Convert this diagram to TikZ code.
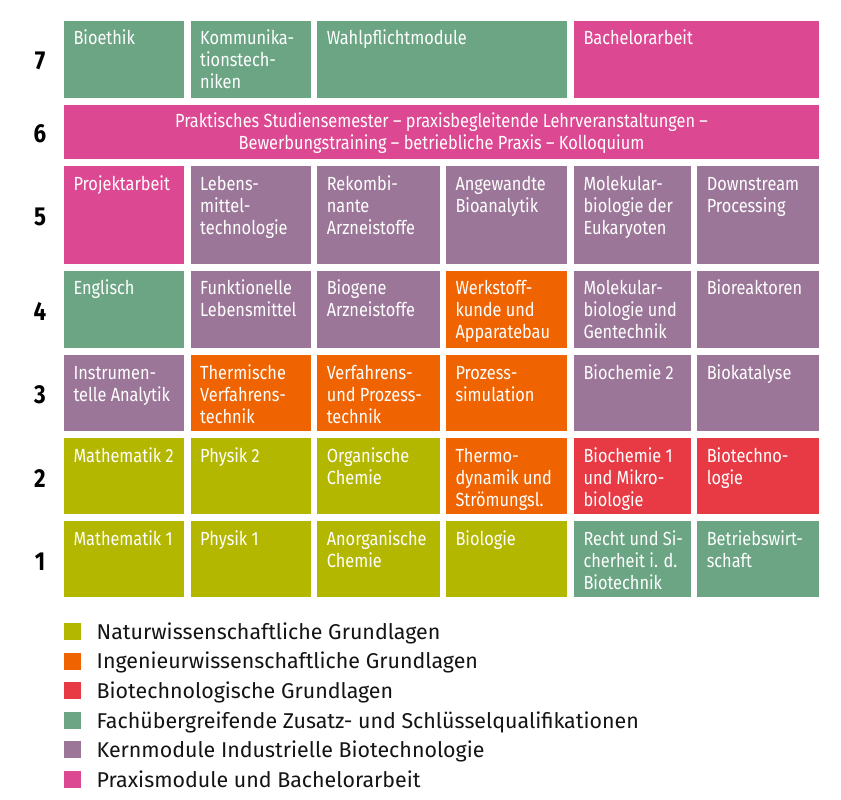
\documentclass[tikz,border=0pt]{standalone}
\usepackage{fontspec}
\setmainfont{Fira Sans}[FakeStretch=0.86]
\newfontfamily\legfont{Fira Sans}
\definecolor{cOlive}{HTML}{B4B700}
\definecolor{cOrange}{HTML}{EF6300}
\definecolor{cRed}{HTML}{E73A45}
\definecolor{cGreen}{HTML}{6BA584}
\definecolor{cPurple}{HTML}{9B7698}
\definecolor{cPink}{HTML}{DD4892}
\definecolor{cInk}{HTML}{141414}
\tikzset{
  cellbox/.style={rectangle,draw=none,inner sep=0pt,outer sep=0pt},
  celltext/.style={inner sep=0pt,outer sep=0pt,text=white,font=\fontsize{19}{22}\selectfont},
  rowlab/.style={inner sep=0pt,outer sep=0pt,text=black,font=\fontsize{26}{30}\selectfont\bfseries},
  legsq/.style={rectangle,draw=none,inner sep=0pt,outer sep=0pt,minimum size=17pt},
  legtext/.style={inner sep=0pt,outer sep=0pt,text=cInk,font=\legfont\fontsize{21.4}{24}\selectfont},
}
\newcommand\modcell[7]{%
  \pgfmathsetmacro\mcW{#4-#2}\pgfmathsetmacro\mcH{#5-#3}%
  \node[cellbox,fill=#6,minimum width=\mcW pt,minimum height=\mcH pt,anchor=north west] (#1) at (#2,#3) {};
  \node[celltext,anchor=base west] (#1t) at ([shift={(9.5,23.8)}]#1.north west) {\parbox[t]{200pt}{\raggedright #7}};
}
\begin{document}
\begin{tikzpicture}[x=1pt,y=-1pt]
\fill[white] (0,0) rectangle (841,800);
\useasboundingbox (0,0) rectangle (841,800);
% row 7
\modcell{c71}{64}{20.7}{184}{98}{cGreen}{Bioethik}
\modcell{c72}{190.7}{20.7}{310.7}{98}{cGreen}{Kommunika-\\tionstech-\\niken}
\modcell{c73}{317.3}{20.7}{567.3}{98}{cGreen}{Wahlpflichtmodule}
\modcell{c75}{574}{20.7}{819}{98}{cPink}{Bachelorarbeit}
% row 6
\node[cellbox,fill=cPink,minimum width=755pt,minimum height=53.7pt,anchor=north west] (c61) at (64,105.3) {};
\node[celltext,anchor=base] (c61t) at (441.5,127.7) {\parbox[t]{740pt}{\centering Praktisches Studiensemester – praxisbegleitende Lehrveranstaltungen –\\Bewerbungstraining – betriebliche Praxis – Kolloquium}};
% row 5
\modcell{c51}{64}{166.3}{184}{264}{cPink}{Projektarbeit}
\modcell{c52}{190.7}{166.3}{310.7}{264}{cPurple}{Lebens-\\mittel-\\technologie}
\modcell{c53}{317.3}{166.3}{440}{264}{cPurple}{Rekombi-\\nante\\Arzneistoffe}
\modcell{c54}{446}{166.3}{567.3}{264}{cPurple}{Angewandte\\Bioanalytik}
\modcell{c55}{574}{166.3}{690.7}{264}{cPurple}{Molekular-\\biologie der\\Eukaryoten}
\modcell{c56}{697.3}{166.3}{819}{264}{cPurple}{Downstream\\Processing}
% row 4
\modcell{c41}{64}{271}{184}{348}{cGreen}{Englisch}
\modcell{c42}{190.7}{271}{310.7}{348}{cPurple}{Funktionelle\\Lebensmittel}
\modcell{c43}{317.3}{271}{440}{348}{cPurple}{Biogene\\Arzneistoffe}
\modcell{c44}{446}{271}{567.3}{348}{cOrange}{Werkstoff-\\kunde und\\Apparatebau}
\modcell{c45}{574}{271}{690.7}{348}{cPurple}{Molekular-\\biologie und\\Gentechnik}
\modcell{c46}{697.3}{271}{819}{348}{cPurple}{Bioreaktoren}
% row 3
\modcell{c31}{64}{355.3}{184}{431}{cPurple}{Instrumen-\\telle Analytik}
\modcell{c32}{190.7}{355.3}{310.7}{431}{cOrange}{Thermische\\Verfahrens-\\technik}
\modcell{c33}{317.3}{355.3}{440}{431}{cOrange}{Verfahrens-\\und Prozess-\\technik}
\modcell{c34}{446}{355.3}{567.3}{431}{cOrange}{Prozess-\\simulation}
\modcell{c35}{574}{355.3}{690.7}{431}{cPurple}{Biochemie 2}
\modcell{c36}{697.3}{355.3}{819}{431}{cPurple}{Biokatalyse}
% row 2
\modcell{c21}{64}{438.3}{184}{514.3}{cOlive}{Mathematik 2}
\modcell{c22}{190.7}{438.3}{310.7}{514.3}{cOlive}{Physik 2}
\modcell{c23}{317.3}{438.3}{440}{514.3}{cOlive}{Organische\\Chemie}
\modcell{c24}{446}{438.3}{567.3}{514.3}{cOrange}{Thermo-\\dynamik und\\Strömungsl.}
\modcell{c25}{574}{438.3}{690.7}{514.3}{cRed}{Biochemie 1\\und Mikro-\\biologie}
\modcell{c26}{697.3}{438.3}{819}{514.3}{cRed}{Biotechno-\\logie}
% row 1
\modcell{c11}{64}{521.3}{184}{597.3}{cOlive}{Mathematik 1}
\modcell{c12}{190.7}{521.3}{310.7}{597.3}{cOlive}{Physik 1}
\modcell{c13}{317.3}{521.3}{440}{597.3}{cOlive}{Anorganische\\Chemie}
\modcell{c14}{446}{521.3}{567.3}{597.3}{cOlive}{Biologie}
\modcell{c15}{574}{521.3}{690.7}{597.3}{cGreen}{Recht und Si-\\cherheit i. d.\\Biotechnik}
\modcell{c16}{697.3}{521.3}{819}{597.3}{cGreen}{Betriebswirt-\\schaft}
% row labels
\node[rowlab] (n7) at (40,61.3) {7};
\node[rowlab] (n6) at (40,134.2) {6};
\node[rowlab] (n5) at (40,217.2) {5};
\node[rowlab] (n4) at (40,311.5) {4};
\node[rowlab] (n3) at (40,395.2) {3};
\node[rowlab] (n2) at (40,478.3) {2};
\node[rowlab] (n1) at (40,561.3) {1};
% legend
\node[legsq,fill=cOlive] (l1) at (72.5,631.5) {};
\node[legsq,fill=cOrange] (l2) at (72.5,661.1) {};
\node[legsq,fill=cRed] (l3) at (72.5,690.7) {};
\node[legsq,fill=cGreen] (l4) at (72.5,720.3) {};
\node[legsq,fill=cPurple] (l5) at (72.5,749.9) {};
\node[legsq,fill=cPink] (l6) at (72.5,779.5) {};
\node[legtext,anchor=base west] (l1t) at (96.7,639.3) {Naturwissenschaftliche Grundlagen};
\node[legtext,anchor=base west] (l2t) at (96.7,668.9) {Ingenieurwissenschaftliche Grundlagen};
\node[legtext,anchor=base west] (l3t) at (96.7,698.5) {Biotechnologische Grundlagen};
\node[legtext,anchor=base west] (l4t) at (96.7,728.1) {Fachübergreifende Zusatz- und Schlüsselqualifikationen};
\node[legtext,anchor=base west] (l5t) at (96.7,757.7) {Kernmodule Industrielle Biotechnologie};
\node[legtext,anchor=base west] (l6t) at (96.7,787.3) {Praxismodule und Bachelorarbeit};
\end{tikzpicture}
\end{document}
